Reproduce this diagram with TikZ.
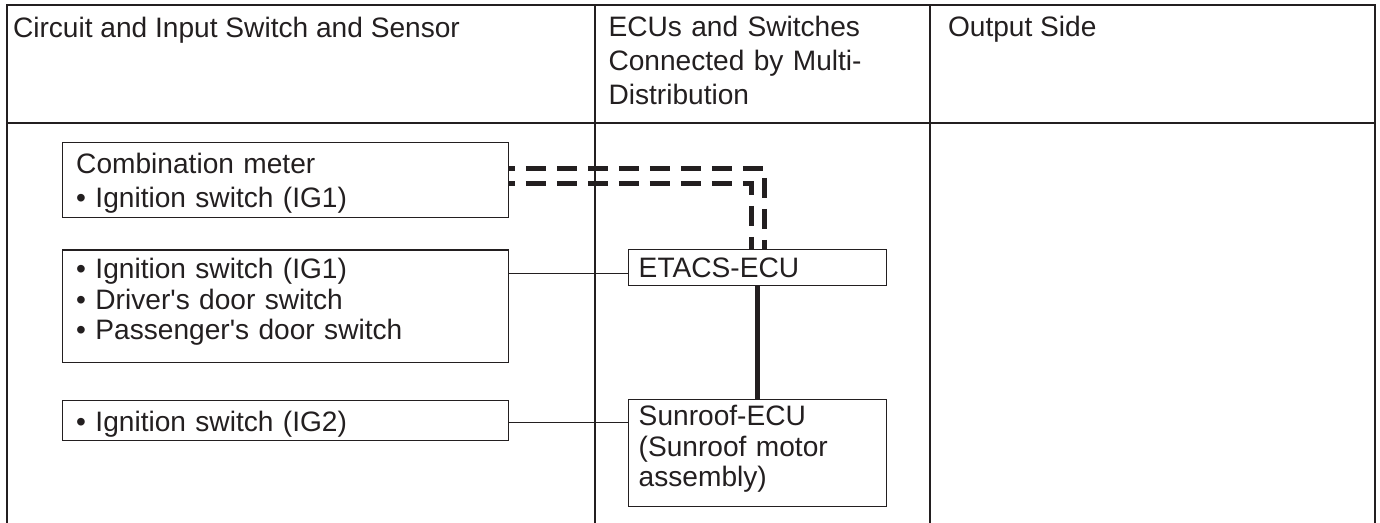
\documentclass[tikz,border=0pt]{standalone}
\usepackage{fontspec}
\setmainfont{Liberation Sans}
\definecolor{ink}{RGB}{35,31,32}

\begin{document}
\begin{tikzpicture}[
                x = 0.02cm, y = -0.02cm, % one unit is one pixel, y runs down
                line join = miter,
                semithick % line style
            ]

            \tikzstyle{every node}=[text = ink, inner ysep = 0pt,
            font = \fontsize{16}{17.3}\selectfont]
            \tikzstyle{head}=[anchor = base west, inner sep = 0pt,
            align = left, font = \fontsize{16}{19.3}\selectfont]
            \tikzstyle{inbox}=[draw = ink, line width = 0.85pt, anchor = north west,
            inner xsep = 0.27cm, text width = 8.38cm, align = left]
            \tikzstyle{ecubox}=[draw = ink, line width = 0.85pt, anchor = north west,
            inner xsep = 0.2cm, text width = 4.76cm, align = left]
            \tikzstyle{frame}=[draw = ink, line width = 1.1pt]
            \tikzstyle{rule}=[draw = ink, line width = 0.6pt]
            \tikzstyle{wire}=[draw = ink, line width = 0.6pt]
            \tikzstyle{bus}=[draw = ink, line width = 2.7pt]
            \tikzstyle{dbus}=[bus, dash pattern = on 0.4cm off 0.22cm, dash phase = 0.29cm]

            \useasboundingbox (0,0) rectangle (1380,523);

            % table
            \draw[frame] (7,523) -- (7,5) -- (1375,5) -- (1375,523);
            \draw[rule] (7,123) -- (1375,123);
            \draw[rule] (595,5) -- (595,523);
            \draw[rule] (930,5) -- (930,523);

            \node[head] (h1) at (12.5,37.5) {Circuit and Input Switch and Sensor};
            \node[head, text width = 6.4cm] (h2) at (608,37) {ECUs and Switches\\
            Connected by Multi-\\ Distribution};
            \node[head] (h3) at (947.5,37) {Output Side};

            % input side
            \node[inbox, text height = 0.62cm, text depth = 0.88cm,
            font = \fontsize{16}{19.3}\selectfont] (meter) at (62,142)
            {Combination meter\\ • Ignition switch (IG1)};
            \node[inbox, text height = 0.57cm, text depth = 1.68cm] (sw) at (62,249.5)
            {• Ignition switch (IG1)\\ • Driver\textquotesingle s door switch\\
            • Passenger\textquotesingle s door switch};
            \node[inbox, text height = 0.62cm, text depth = 0.18cm] (ig2) at (62,400)
            {• Ignition switch (IG2)};

            % ECUs
            \node[ecubox, text height = 0.56cm, text depth = 0.16cm] (etacs) at (628,249)
            {ETACS-ECU};
            \node[ecubox, text height = 0.52cm, text depth = 1.62cm] (sunroof) at (628,399)
            {Sunroof-ECU\\ (Sunroof motor\\ assembly)};

            % connections
            \draw[dbus] ([yshift=0.23cm]meter.east) -| ([xshift=0.14cm]etacs.north);
            \draw[dbus] ([yshift=-0.07cm]meter.east) -| ([xshift=-0.12cm]etacs.north);
            \path ([yshift=-0.12cm]etacs.west) coordinate (etacs-in);
            \draw[wire] (etacs-in -| sw.east) -- (etacs-in);
            \draw[wire] ([yshift=-0.04cm]ig2.east) -- ([yshift=-0.04cm]ig2.east -| sunroof.west);
            \draw[bus] (etacs.south) -- (sunroof.north);

        \end{tikzpicture}
\end{document}
